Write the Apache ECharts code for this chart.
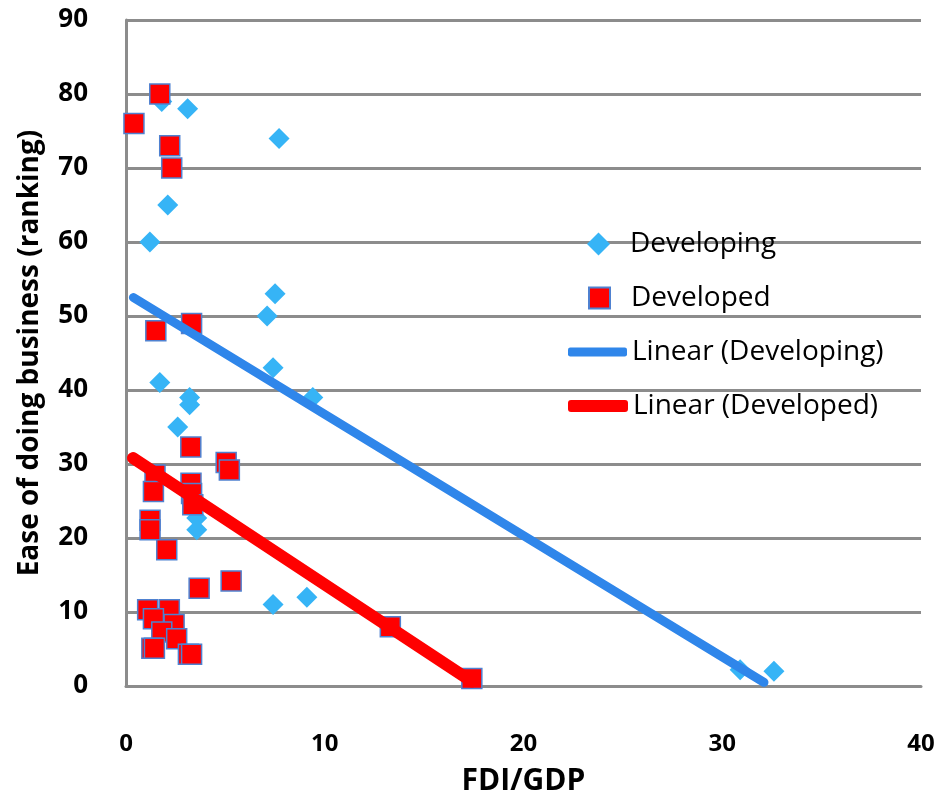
<!DOCTYPE html>
<html>
<head>
<meta charset="utf-8">
<script src="https://cdn.jsdelivr.net/npm/echarts@6/dist/echarts.min.js"></script>
<style>html,body{margin:0;padding:0;background:#fff}#c{width:949px;height:801px}</style>
</head>
<body>
<div id="c"></div>
<script>
const xTicks = [0, 10, 20, 30, 40];
const yTicks = [0, 10, 20, 30, 40, 50, 60, 70, 80, 90];
const developing = [
  [1.8, 79], [3.1, 78], [7.7, 74], [2.1, 65], [1.2, 60], [7.5, 53], [7.1, 50],
  [7.4, 43], [1.7, 41], [3.2, 39], [3.2, 38], [9.4, 39], [2.6, 35], [3.56, 22.7],
  [3.56, 21.1], [7.4, 11], [9.1, 12], [30.9, 2.2], [32.6, 2]
];
const developed = [
  [1.7, 80], [0.4, 76], [2.2, 73], [2.3, 70], [1.5, 48], [3.3, 49], [3.26, 32.3],
  [5.04, 30.2], [5.2, 29.2], [1.46, 28.5], [1.38, 26.3], [3.27, 27.4], [3.3, 26],
  [3.36, 24.5], [1.21, 22.4], [1.21, 21.1], [2.05, 18.4], [3.68, 13.2], [5.29, 14.2],
  [1.09, 10.3], [2.18, 10.3], [1.38, 9.1], [2.42, 8.3], [1.8, 7.3], [2.55, 6.4],
  [1.3, 5.1], [1.43, 5.1], [3.14, 4.3], [3.3, 4.3], [13.3, 8], [17.4, 1]
];
const trendDeveloping = [[0.37, 52.5], [32.1, 0.5]];
const trendDeveloped = [[0.35, 30.8], [17.4, 0.6]];

const gray = '#8c8c8c';
const font = '"Open Sans", sans-serif';
const chart = echarts.init(document.getElementById('c'));
chart.setOption({
  animation: false,
  backgroundColor: '#fff',
  grid: { left: 126, right: 28, top: 20, bottom: 115, outerBoundsMode: 'none', containLabel: false },
  xAxis: {
    type: 'value', min: xTicks[0], max: xTicks[xTicks.length - 1], interval: 10,
    name: 'FDI/GDP', nameLocation: 'middle', nameGap: 80,
    nameTextStyle: { fontFamily: font, fontWeight: 'bold', fontSize: 30, color: '#000' },
    axisLine: { show: true, lineStyle: { color: gray, width: 3 } },
    axisTick: { show: false },
    splitLine: { show: false },
    axisLabel: { margin: 46, fontFamily: font, fontWeight: 'bold', fontSize: 24, color: '#000' }
  },
  yAxis: {
    type: 'value', min: yTicks[0], max: yTicks[yTicks.length - 1], interval: 10,
    name: 'Ease of doing business (ranking)', nameLocation: 'middle', nameGap: 82, nameRotate: 90,
    nameTextStyle: { fontFamily: font, fontWeight: 'bold', fontSize: 28, color: '#000' },
    axisLine: { show: true, lineStyle: { color: gray, width: 3 } },
    axisTick: { show: false },
    splitLine: { show: true, lineStyle: { color: gray, width: 3 } },
    axisLabel: { margin: 38, fontFamily: font, fontWeight: 'bold', fontSize: 26, color: '#000' }
  },
  legend: [
    { data: ['Developing'], left: 587, top: 230, padding: 0, itemWidth: 23, itemHeight: 23,
      textStyle: { fontFamily: font, fontSize: 28, color: '#000', padding: [0, 0, 0, 15] } },
    { data: ['Developed'], left: 588, top: 284, padding: 0, itemWidth: 21, itemHeight: 21,
      textStyle: { fontFamily: font, fontSize: 28, color: '#000', padding: [0, 0, 0, 16] } },
    { data: ['Linear (Developing)'], icon: 'roundRect', left: 568, top: 338, padding: 0, itemWidth: 59, itemHeight: 9,
      textStyle: { fontFamily: font, fontSize: 28, color: '#000', padding: [0, 0, 0, 0] } },
    { data: ['Linear (Developed)'], icon: 'roundRect', left: 568, top: 392, padding: 0, itemWidth: 60, itemHeight: 12,
      textStyle: { fontFamily: font, fontSize: 28, color: '#000', padding: [0, 0, 0, 0] } }
  ],
  series: [
    { name: 'Developing', type: 'scatter', data: developing, symbol: 'diamond', symbolSize: 21,
      itemStyle: { color: '#36b4f6', opacity: 1 }, z: 2 },
    { name: 'Developed', type: 'scatter', data: developed, symbol: 'rect', symbolSize: 20,
      itemStyle: { color: '#ff0000', borderColor: '#4f81d0', borderWidth: 1.5, opacity: 1 }, z: 3 },
    { name: 'Linear (Developing)', type: 'line', data: trendDeveloping, symbol: 'none', showSymbol: false,
      color: '#2f86ea', itemStyle: { color: '#2f86ea' }, lineStyle: { color: '#2f86ea', width: 9, cap: 'round' }, z: 4 },
    { name: 'Linear (Developed)', type: 'line', data: trendDeveloped, symbol: 'none', showSymbol: false,
      color: '#ff0000', itemStyle: { color: '#ff0000' }, lineStyle: { color: '#ff0000', width: 12, cap: 'round' }, z: 5 }
  ]
});
</script>
</body>
</html>
